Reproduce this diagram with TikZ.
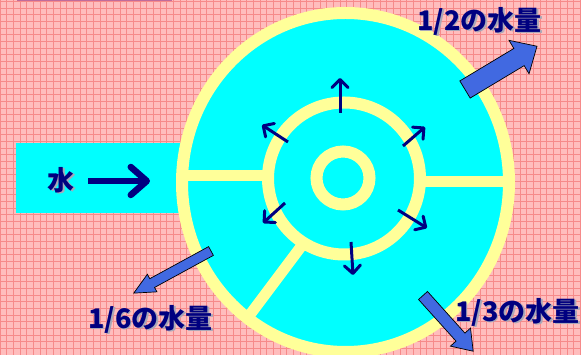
\documentclass[tikz,border=0pt]{standalone}
\usepackage{fontspec}
\usepackage{tikz}
\usetikzlibrary{arrows.meta}
\newfontfamily\jpfont{Noto Sans CJK JP}
\definecolor{Blush}{HTML}{FFBDBD}
\definecolor{GridRed}{HTML}{F68A8A}
\definecolor{Aqua}{HTML}{00FFFF}
\definecolor{Cream}{HTML}{FFFF99}
\definecolor{Navy}{HTML}{000080}
\definecolor{Royal}{HTML}{4169E1}
\definecolor{Shade}{HTML}{A8A8B8}
\definecolor{Mauve}{HTML}{C06C9C}
\newcommand\shtext[1]{\makebox[0pt][l]{\hspace{1.5pt}\raisebox{-1.5pt}{\textcolor{Shade}{#1}}}#1}
\tikzset{
  ring/.style={draw=Cream,line width=12pt},
  spoke/.style={draw=Cream,line width=11pt},
  flowarrow/.style={draw=Navy,line width=3pt,-{Straight Barb[length=8pt,width=16pt,round]}},
  inarrow/.style={draw=Navy,line width=6.5pt,-{Straight Barb[length=16pt,width=28pt,round]}},
  outarrow/.style={draw=black,line width=0.7pt,fill=Royal,line join=miter},
  share/.style={text=Navy,font=\jpfont\bfseries\fontsize{27}{30}\selectfont,inner sep=0pt}
}

\begin{document}
\begin{tikzpicture}[x=1pt,y=1pt]
\useasboundingbox (0,0) rectangle (581,355);
\fill[Blush] (0,0) rectangle (581,355);
\draw[GridRed,line width=0.9pt] (0,0) grid[step=6.67pt] (581,355);
\draw[Mauve,line width=1.5pt] (17,354.5)--(172,354.5);
\fill[Aqua] (16,142) rectangle (190,212);
\filldraw[fill=Aqua,ring] (345.5,172.5) ellipse[x radius=163.5pt,y radius=169.5pt];
\draw[ring] (344,176.5) circle[radius=76pt];
\draw[ring] (343,177) circle[radius=26.5pt];
\draw[spoke] (182,179)--(270,179);
\draw[spoke] (419,173)--(509,173);
\draw[spoke] (306,115)--(246,35);
\foreach \xa/\ya/\xb/\yb in {340/242/340/277,288/213/262/230,403/209/425/228,285/152/263/132,398/145/427/127,351/113/353/80}
  \draw[flowarrow] (\xa,\ya)--(\xb,\yb);
\draw[inarrow] (88,174)--(150,174);
\draw[outarrow,shift={(465,265.5)},rotate=31] (0,-10)--(63,-10)--(63,-19.5)--(84,0)--(63,19.5)--(63,10)--(0,10)--cycle;
\draw[outarrow,shift={(211,104)},rotate=208.6] (0,-5)--(67,-5)--(67,-10)--(88,0)--(67,10)--(67,5)--(0,5)--cycle;
\draw[outarrow,shift={(423,59.5)},rotate=-48] (0,-6)--(56,-6)--(56,-13.5)--(75,0)--(56,13.5)--(56,6)--(0,6)--cycle;
\node[share] (water) at (61,174) {\shtext{水}};
\node[share] (half) at (479.5,333) {\shtext{1/2の水量}};
\node[share] (sixth) at (150.5,35) {\shtext{1/6の水量}};
\node[share] (third) at (517.5,42) {\shtext{1/3の水量}};
\end{tikzpicture}
\end{document}
